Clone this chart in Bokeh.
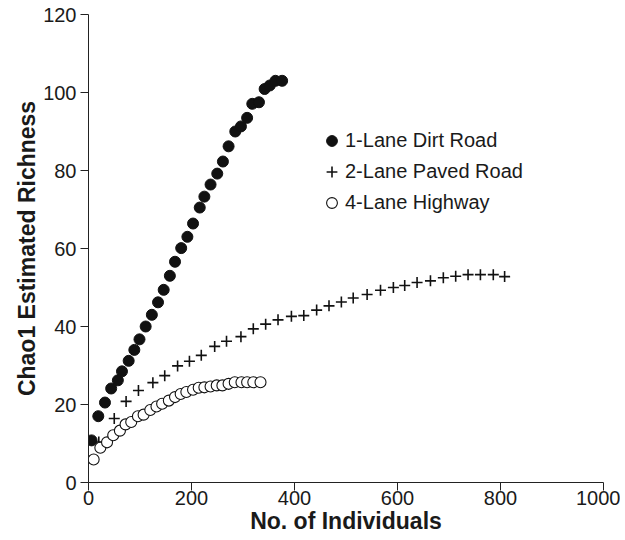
from bokeh.plotting import figure
from bokeh.models import Legend, LegendItem, FixedTicker
from bokeh.embed import file_html
from bokeh.resources import INLINE

# 1-Lane Dirt Road
dirt_x = [6, 19, 32, 44, 57, 65, 78, 89, 99, 111, 123, 135, 146, 158, 168, 180, 192,
          203, 216, 225, 237, 250, 261, 272, 285, 296, 308, 318, 331, 342, 352, 363, 376]
dirt_y = [10.8, 17.0, 20.5, 24.1, 26.2, 28.5, 31.2, 34.0, 36.7, 40.0, 43.0, 46.2, 49.4,
          53.0, 56.6, 60.1, 63.0, 66.4, 70.5, 73.3, 76.4, 79.2, 82.3, 86.2, 90.0, 91.3,
          93.5, 97.1, 97.5, 100.9, 101.8, 103.0, 103.0]

# 2-Lane Paved Road
paved_x = [20, 50, 73, 97, 125, 148, 173, 196, 219, 245, 268, 296, 320, 344, 368, 394, 418,
           443, 467, 491, 514, 541, 567, 592, 614, 638, 664, 689, 713, 737, 761, 786, 808]
paved_y = [10.4, 16.4, 20.8, 23.6, 25.6, 27.4, 29.9, 31.1, 32.6, 34.9, 36.2, 37.4, 39.4,
           40.6, 41.7, 42.6, 42.8, 44.2, 45.3, 46.3, 47.3, 48.2, 49.3, 50.0, 50.5, 51.3,
           51.7, 52.5, 52.9, 53.3, 53.3, 53.3, 52.8]

# 4-Lane Highway
hwy_x = [10, 23, 36, 48, 61, 72, 83, 96, 107, 120, 132, 143, 156, 168, 179, 190, 203,
         214, 225, 237, 249, 260, 272, 284, 297, 308, 320, 334]
hwy_y = [5.9, 8.9, 10.3, 12.1, 13.3, 14.9, 15.5, 17.0, 17.4, 18.6, 19.5, 20.2, 21.0,
         21.9, 22.7, 23.2, 23.8, 24.3, 24.4, 24.6, 24.9, 24.9, 25.3, 25.7, 25.7, 25.7,
         25.7, 25.7]

series_labels = ["1-Lane Dirt Road", "2-Lane Paved Road", "4-Lane Highway"]
x_ticks = [0, 200, 400, 600, 800, 1000]
y_ticks = [0, 20, 40, 60, 80, 100, 120]

FONT = "Liberation Sans"

p = figure(width=620, height=536, output_backend="svg", toolbar_location=None,
           x_range=(0, 1000), y_range=(0, 120),
           min_border_left=88, min_border_right=17, min_border_top=14, min_border_bottom=54)
p.outline_line_color = None
p.grid.visible = False
p.background_fill_color = "white"
p.border_fill_color = "white"

r1 = p.scatter(dirt_x, dirt_y, marker="circle", size=11, fill_color="#111111",
               line_color="#111111", line_width=1)
r2 = p.scatter(paved_x, paved_y, marker="cross", size=11, line_color="#111111",
               line_width=1.6)
r3 = p.scatter(hwy_x, hwy_y, marker="circle", size=11, fill_color="white",
               line_color="#111111", line_width=1.1)

for ax, ticks in ((p.xaxis, x_ticks), (p.yaxis, y_ticks)):
    ax.ticker = FixedTicker(ticks=ticks)
    ax.minor_tick_line_color = None
    ax.major_tick_in = 0
    ax.major_tick_out = 8
    ax.axis_line_color = "#222222"
    ax.major_tick_line_color = "#222222"
    ax.major_label_text_font = FONT
    ax.major_label_text_font_size = "20px"
    ax.major_label_text_color = "#1a1a1a"
    ax.axis_label_text_font = FONT
    ax.axis_label_text_font_size = "23px"
    ax.axis_label_text_font_style = "bold"
    ax.axis_label_text_color = "#1a1a1a"

p.xaxis.axis_label = "No. of Individuals"
p.yaxis.axis_label = "Chao1 Estimated Richness"
p.xaxis.major_label_standoff = 0
p.xaxis.axis_label_standoff = 0
p.yaxis.major_label_standoff = 4
p.yaxis.axis_label_standoff = 0

legend = Legend(items=[LegendItem(label=series_labels[0], renderers=[r1]),
                       LegendItem(label=series_labels[1], renderers=[r2]),
                       LegendItem(label=series_labels[2], renderers=[r3])],
                location=(230, 266), padding=0, margin=0, spacing=4,
                glyph_width=27, glyph_height=27, label_height=27, label_standoff=-9,
                label_text_font=FONT, label_text_font_size="20px",
                label_text_color="#1a1a1a",
                border_line_color=None, background_fill_alpha=0)
p.add_layout(legend, "center")

open("out.html", "w").write(file_html(p, INLINE))
